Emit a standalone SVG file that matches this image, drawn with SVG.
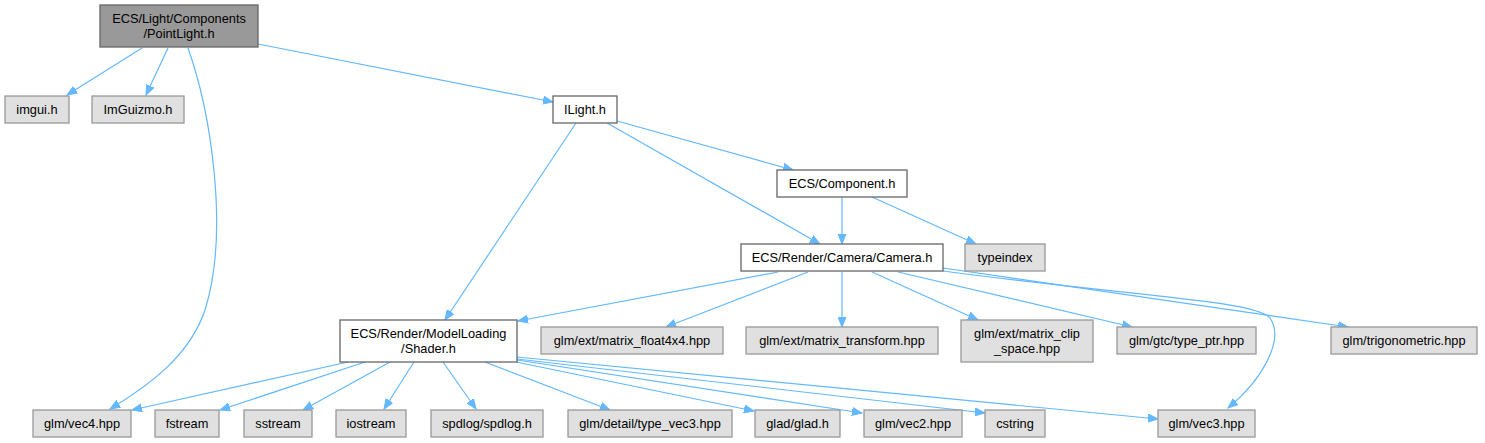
<svg xmlns="http://www.w3.org/2000/svg" width="1485" height="443" viewBox="0 0 1485 443">
<style>
.bg{fill:#ffffff}
.n rect{stroke-width:1.3}
.root rect{fill:#999999;stroke:#666666}
.doc rect{fill:#ffffff;stroke:#666666}
.ext rect{fill:#e0e0e0;stroke:#999999}
text{font-family:"Liberation Sans",Arial,sans-serif;font-size:12.8px;fill:#000000;text-anchor:middle}
.e path{fill:none;stroke:#63b8ff;stroke-width:1.2;marker-end:url(#ah)}
</style>
<defs>
<marker id="ah" markerWidth="11" markerHeight="9" refX="10" refY="4.5" orient="auto" markerUnits="userSpaceOnUse">
<path d="M0,0.5 L10,4.5 L0,8.5 z" fill="#63b8ff" stroke="#63b8ff" stroke-width="1"/>
</marker>
</defs>
<rect class="bg" x="0" y="0" width="1485" height="443"/>
<g id="edges" class="e">
<path d="M142,48 L67,95"/>
<path d="M168,48 L146,95"/>
<path d="M188,48 C210,110 230,230 205,310 C190,355 150,385 110,409"/>
<path d="M258,44 L553,102"/>
<path d="M617,121 L793,170"/>
<path d="M607,123 L820,244"/>
<path d="M576,123 L445,320"/>
<path d="M842,197 L842,244"/>
<path d="M872,197 L976,244"/>
<path d="M778,272 L518,321"/>
<path d="M808,272 L666,327"/>
<path d="M842,272 L842,327"/>
<path d="M872,272 L978,320"/>
<path d="M898,272 L1132,327"/>
<path d="M943,268 L1348,327"/>
<path d="M943,271 C1120,295 1255,300 1270,318 C1285,340 1262,380 1228,408"/>
<path d="M348,362 L132,410"/>
<path d="M365,362 L220,410"/>
<path d="M390,362 L303,410"/>
<path d="M414,362 L384,409"/>
<path d="M443,362 L476,409"/>
<path d="M485,362 L610,410"/>
<path d="M516,362 L754,411"/>
<path d="M517,360 L862,413"/>
<path d="M517,359 L985,413"/>
<path d="M517,357 L1158,419"/>
</g>
<g id="PointLight" class="n root"><rect x="100" y="5" width="158" height="42"/><text x="179" y="23">ECS/Light/Components</text><text x="179" y="38">/PointLight.h</text></g>
<g id="imgui" class="n ext"><rect x="5" y="96" width="64" height="27"/><text x="37" y="114">imgui.h</text></g>
<g id="ImGuizmo" class="n ext"><rect x="92" y="96" width="92" height="27"/><text x="138" y="114">ImGuizmo.h</text></g>
<g id="ILight" class="n doc"><rect x="553" y="96" width="64" height="27"/><text x="585" y="114">ILight.h</text></g>
<g id="Component" class="n doc"><rect x="777" y="170" width="130" height="27"/><text x="842" y="188">ECS/Component.h</text></g>
<g id="Camera" class="n doc"><rect x="741" y="244" width="202" height="27"/><text x="842" y="262">ECS/Render/Camera/Camera.h</text></g>
<g id="typeindex" class="n ext"><rect x="965" y="244" width="80" height="27"/><text x="1005" y="262">typeindex</text></g>
<g id="Shader" class="n doc"><rect x="340" y="320" width="177" height="42"/><text x="428.5" y="338">ECS/Render/ModelLoading</text><text x="428.5" y="353">/Shader.h</text></g>
<g id="matrix_float4x4" class="n ext"><rect x="541" y="327" width="182" height="27"/><text x="632" y="345">glm/ext/matrix_float4x4.hpp</text></g>
<g id="matrix_transform" class="n ext"><rect x="746" y="327" width="192" height="27"/><text x="842" y="345">glm/ext/matrix_transform.hpp</text></g>
<g id="matrix_clip_space" class="n ext"><rect x="961" y="320" width="132" height="42"/><text x="1027" y="338">glm/ext/matrix_clip</text><text x="1027" y="353">_space.hpp</text></g>
<g id="type_ptr" class="n ext"><rect x="1117" y="327" width="139" height="27"/><text x="1186.5" y="345">glm/gtc/type_ptr.hpp</text></g>
<g id="trigonometric" class="n ext"><rect x="1331" y="327" width="146" height="27"/><text x="1404" y="345">glm/trigonometric.hpp</text></g>
<g id="vec4" class="n ext"><rect x="33" y="410" width="98" height="27"/><text x="82" y="428">glm/vec4.hpp</text></g>
<g id="fstream" class="n ext"><rect x="155" y="410" width="64" height="27"/><text x="187" y="428">fstream</text></g>
<g id="sstream" class="n ext"><rect x="244" y="410" width="68" height="27"/><text x="278" y="428">sstream</text></g>
<g id="iostream" class="n ext"><rect x="336" y="410" width="70" height="27"/><text x="371" y="428">iostream</text></g>
<g id="spdlog" class="n ext"><rect x="431" y="410" width="112" height="27"/><text x="487" y="428">spdlog/spdlog.h</text></g>
<g id="type_vec3" class="n ext"><rect x="568" y="410" width="164" height="27"/><text x="650" y="428">glm/detail/type_vec3.hpp</text></g>
<g id="glad" class="n ext"><rect x="755" y="410" width="85" height="27"/><text x="797.5" y="428">glad/glad.h</text></g>
<g id="vec2" class="n ext"><rect x="864" y="410" width="98" height="27"/><text x="913" y="428">glm/vec2.hpp</text></g>
<g id="cstring" class="n ext"><rect x="985" y="410" width="60" height="27"/><text x="1015" y="428">cstring</text></g>
<g id="vec3" class="n ext"><rect x="1158" y="410" width="97" height="27"/><text x="1206.5" y="428">glm/vec3.hpp</text></g>
</svg>
